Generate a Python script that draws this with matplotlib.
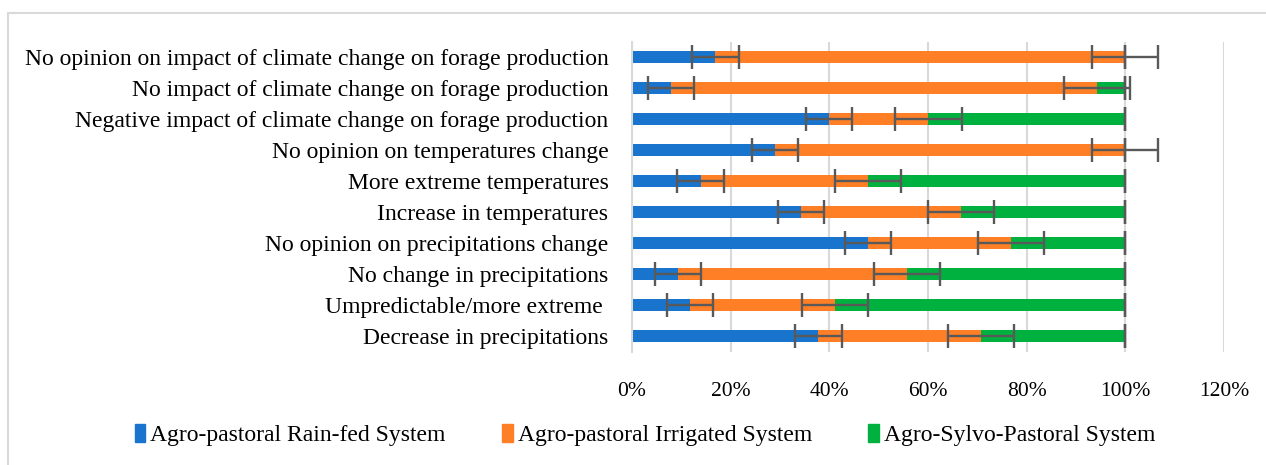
import numpy as np
import matplotlib.pyplot as plt
from matplotlib.patches import Patch, Rectangle

# categories, bottom to top
categories = ["Decrease in precipitations",
              "Umpredictable/more extreme ",
              "No change in precipitations",
              "No opinion on precipitations change",
              "Increase in temperatures",
              "More extreme temperatures",
              "No opinion on temperatures change",
              "Negative impact of climate change on forage production",
              "No impact of climate change on forage production",
              "No opinion on impact of climate change on forage production"]

# shares in percent
rainfed = [37.8, 11.8, 9.3, 47.8, 34.3, 13.9, 29.0, 39.9, 7.9, 16.9]
irrigated = [32.9, 29.3, 46.4, 29.0, 32.3, 34.0, 71.0, 20.2, 86.4, 83.1]
sylvo = [29.3, 58.9, 44.3, 23.2, 33.4, 52.1, 0.0, 39.9, 5.7, 0.0]

# error bar half widths in percent
err_rainfed = 4.7
err_irrigated = 6.7
err_sylvo = 0.0

series_names = ["Agro-pastoral Rain-fed System",
                "Agro-pastoral Irrigated System",
                "Agro-Sylvo-Pastoral System"]
colors = ["#1874cd", "#ff7f27", "#00b140"]

xticks = [0, 20, 40, 60, 80, 100, 120]

plt.rcParams['font.family'] = ['Liberation Serif', 'DejaVu Serif']

fig = plt.figure(figsize=(12.66, 4.65), dpi=100)
W, H = 1266, 465
ax = fig.add_axes([632 / W, (H - 351.5) / H, (1224 - 632) / W, 310 / H])

y = np.arange(len(categories))
rainfed = np.array(rainfed)
irrigated = np.array(irrigated)
sylvo = np.array(sylvo)

lefts = [np.zeros(len(y)), rainfed, rainfed + irrigated]
values = [rainfed, irrigated, sylvo]
errs = [err_rainfed, err_irrigated, err_sylvo]

for vals, left, c, name in zip(values, lefts, colors, series_names):
    ax.barh(y, vals, left=left, height=0.4, color=c, label=name, zorder=2)

for vals, left, e in zip(values, lefts, errs):
    ends = left + vals
    ax.errorbar(ends, y, xerr=np.full(len(y), e), fmt='none',
                ecolor="#595959", elinewidth=1.7, capsize=8.5, capthick=1.7,
                zorder=3)

ax.set_xlim(0, 120)
ax.set_ylim(-0.5, len(y) - 0.5)
ax.set_xticks(xticks)
ax.set_xticklabels([f"{t}%" for t in xticks])
ax.set_yticks(y)
ax.set_yticklabels(categories)
ax.tick_params(axis='x', length=0, pad=22, labelsize=15.5, colors='black')
ax.tick_params(axis='y', length=0, pad=17, labelsize=17, colors='black')
ax.grid(axis='x', color='#d9d9d9', linewidth=1.5, zorder=0)
ax.set_axisbelow(True)
for s in ['top', 'right', 'bottom']:
    ax.spines[s].set_visible(False)
ax.spines['left'].set_color('#d9d9d9')
ax.spines['left'].set_linewidth(1.5)

handles = [Patch(color=c, label=n) for c, n in zip(colors, series_names)]
fig.legend(handles=handles, loc='center', bbox_to_anchor=(645 / W, 1 - 435 / H),
           ncol=3, frameon=False, fontsize=17, handlelength=0.45,
           handleheight=0.8, handletextpad=0.2, columnspacing=2.4)

# outer chart border
fig.patches.append(Rectangle((8 / W, -0.1), 1.2, (H - 13) / H + 0.1,
                             transform=fig.transFigure, fill=False,
                             edgecolor='#d9d9d9', linewidth=1.5))

fig.savefig("out.png", dpi=100)
